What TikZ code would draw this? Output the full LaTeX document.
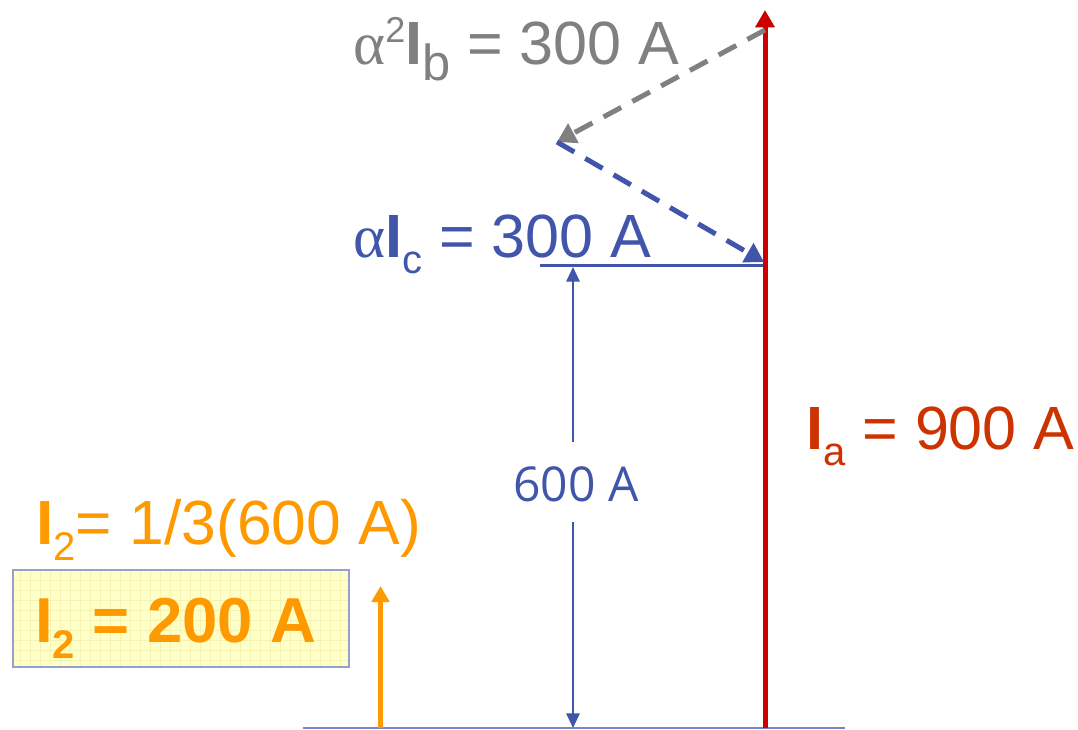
\documentclass[tikz,border=0pt]{standalone}
\usepackage{fontspec}
\setmainfont{Liberation Sans}
\newfontfamily\grk{Liberation Serif}
\newfontfamily\dimf{Open Sans}
\usetikzlibrary{arrows.meta}
\newdimen\pxu \pxu=0.75pt
\definecolor{cgray}{RGB}{128,128,128}
\definecolor{cblue}{RGB}{65,85,170}
\definecolor{cred}{RGB}{204,0,0}
\definecolor{credt}{RGB}{204,51,0}
\definecolor{corange}{RGB}{255,153,0}
\definecolor{cbase}{RGB}{120,135,195}
\definecolor{cyel}{RGB}{255,255,200}
\definecolor{cgrid}{RGB}{246,242,178}
\definecolor{cboxb}{RGB}{150,160,205}
\newcommand\bigf{\fontsize{45.8}{50}\selectfont}
\newcommand\orf{\fontsize{46.8}{50}\selectfont}
\newcommand\orbf{\fontsize{47.6}{50}\selectfont}
\newcommand\subtxt[2][30]{\raisebox{-16\pxu}{\fontsize{#1}{#1}\selectfont #2}}
\newcommand\suptxt[1]{\raisebox{22\pxu}{\fontsize{27}{27}\selectfont #1}}
\begin{document}
\begin{tikzpicture}[x=0.75pt,y=-0.75pt,
  lbl/.style={anchor=base west,inner sep=0pt,font=\bigf},
  dashedarrow/.style={line width=3.75pt,dash pattern=on 15pt off 9.5pt,-{Triangle[length=14pt,width=16pt]}},
  thinarrow/.style={cblue,line width=1.5pt},
  ]
\useasboundingbox (0,0) rectangle (1078,730);
% coordinates
\coordinate (baseL) at (303,728);
\coordinate (baseR) at (845,728);
\coordinate (redbot) at (765,728);
\coordinate (redtop) at (765,10);
\coordinate (grayst) at (765,30);
\coordinate (mid) at (557,142);
\coordinate (bluetip) at (764,262);
\coordinate (hL) at (540,265.5);
\coordinate (hR) at (765,265.5);
\coordinate (dimtop) at (573,267);
\coordinate (dimA) at (573,442);
\coordinate (dimB) at (573,522);
\coordinate (dimbot) at (573,728);
\coordinate (orbot) at (380.5,728);
\coordinate (ortop) at (380.5,586);
% yellow box
\node (box) [draw=cboxb,line width=0.8pt,fill=cyel,minimum width=336\pxu,minimum height=97\pxu,inner sep=0pt] at (181,618.5) {};
\foreach \gx in {20,30,...,340} {\draw[cgrid,line width=0.5pt] (\gx,571) -- (\gx,666);}
\foreach \gy in {580,590,...,660} {\draw[cgrid,line width=0.5pt] (14,\gy) -- (348,\gy);}
\draw[cboxb,line width=0.8pt] (box.south west) rectangle (box.north east);
% lines
\draw[cbase,line width=1.5pt] (baseL) -- (baseR);
\draw[cblue,line width=2.2pt] (hL) -- (hR);
\node (dimlbl) [inner sep=0pt,anchor=base,font=\dimf\fontsize{36}{40}\selectfont,text=cblue] at (576,502) {600 A};
\draw[thinarrow,{Triangle[length=11pt,width=10pt]}-] (dimtop) -- (dimA);
\draw[thinarrow,-{Triangle[length=11pt,width=10pt]}] (dimB) -- (dimbot);
\draw[cred,line width=3.75pt,-{Triangle[length=13pt,width=14pt]}] (redbot) -- (redtop);
\draw[corange,line width=3.4pt,-{Triangle[length=12pt,width=13pt]}] (orbot) -- (ortop);
\draw[cgray,dashedarrow] (grayst) -- (mid);
\draw[cblue,dashedarrow] (mid) -- (bluetip);
% texts
\node (tb) [lbl,text=cgray] at (353,65) {{\grk α}\suptxt{2}\textbf{I}\subtxt[38]{b} = 300 A};
\node (tc) [lbl,text=cblue] at (353,258) {{\grk α}\textbf{I}\subtxt{c} = 300 A};
\node (ta) [lbl,text=credt] at (806,450) {\textbf{I}\subtxt{a} = 900 A};
\node (t2) [lbl,text=corange,font=\orf] at (36,545) {\textbf{I}\subtxt{2}= 1/3(600 A)};
\node (t2b) [lbl,text=corange,font=\orbf] at (35,642) {\textbf{I\subtxt{2} = 200 A}};
\end{tikzpicture}
\end{document}
